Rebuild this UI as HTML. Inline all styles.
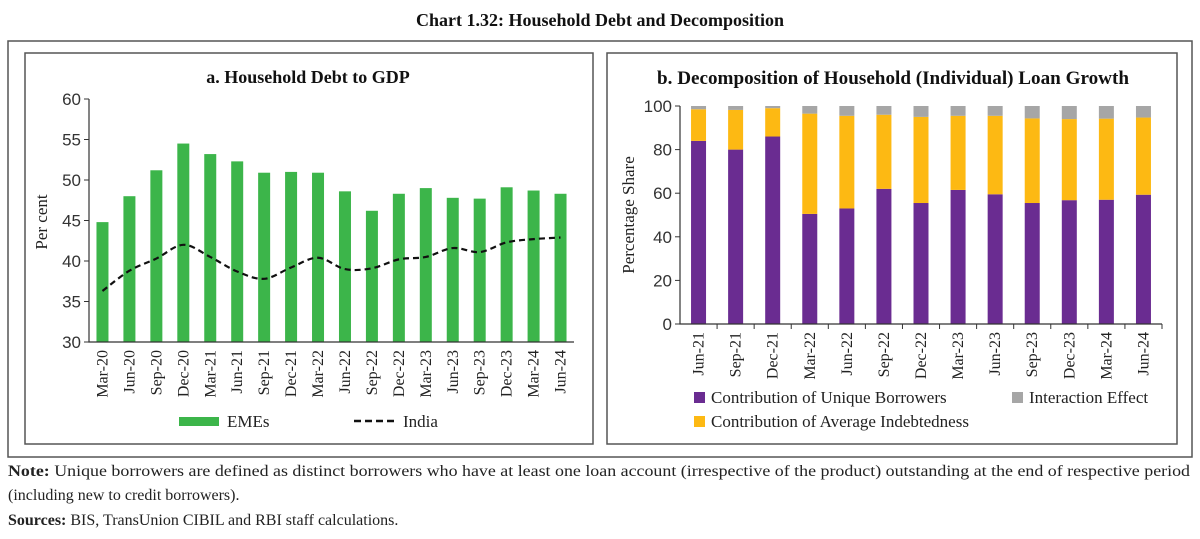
<!DOCTYPE html>
<html><head><meta charset="utf-8">
<style>
body{margin:0;background:#fff;font-family:"Liberation Serif",serif;}
#wrap{position:relative;width:1200px;height:539px;overflow:hidden;}
</style></head>
<body>
<div id="wrap">
<svg id="svg" width="1200" height="539" style="position:absolute;left:0;top:0" font-family="Liberation Serif,serif">
 <text x="600" y="26" text-anchor="middle" font-size="18" font-weight="bold" fill="#111">Chart 1.32: Household Debt and Decomposition</text>
 <rect x="8" y="41" width="1184" height="416" fill="none" stroke="#555" stroke-width="1.5"/>
 <rect x="25" y="53" width="568" height="391" fill="none" stroke="#555" stroke-width="1.5"/>
 <rect x="607" y="53" width="570" height="391" fill="none" stroke="#555" stroke-width="1.5"/>
 <text x="308" y="83" text-anchor="middle" font-size="18" font-weight="bold" fill="#111">a. Household Debt to GDP</text>
 <text x="893" y="84" text-anchor="middle" font-size="19" font-weight="bold" fill="#111" textLength="472" lengthAdjust="spacingAndGlyphs">b. Decomposition of Household (Individual) Loan Growth</text>
 <g id="ga"></g>
 <g id="gb"></g>
 <text x="8" y="476" font-size="16" fill="#222" textLength="1182" lengthAdjust="spacingAndGlyphs"><tspan font-weight="bold">Note:</tspan> Unique borrowers are defined as distinct borrowers who have at least one loan account (irrespective of the product) outstanding at the end of respective period</text>
 <text x="8" y="500" font-size="16" fill="#222">(including new to credit borrowers).</text>
 <text x="8" y="525" font-size="16" fill="#222"><tspan font-weight="bold">Sources:</tspan> BIS, TransUnion CIBIL and RBI staff calculations.</text>
</svg>
</div>
<script>
const catsA=["Mar-20","Jun-20","Sep-20","Dec-20","Mar-21","Jun-21","Sep-21","Dec-21","Mar-22","Jun-22","Sep-22","Dec-22","Mar-23","Jun-23","Sep-23","Dec-23","Mar-24","Jun-24"];
const emes=[44.8,48,51.2,54.5,53.2,52.3,50.9,51,50.9,48.6,46.2,48.3,49,47.8,47.7,49.1,48.7,48.3];
const india=[36.3,38.8,40.3,42,40.5,38.7,37.8,39.2,40.4,39,39.1,40.2,40.5,41.6,41.1,42.3,42.7,42.9];
const ticksA=[30,35,40,45,50,55,60];
const catsB=["Jun-21","Sep-21","Dec-21","Mar-22","Jun-22","Sep-22","Dec-22","Mar-23","Jun-23","Sep-23","Dec-23","Mar-24","Jun-24"];
const uniqueB=[84,80,86,50.5,53,62,55.5,61.5,59.5,55.5,56.8,57,59.3];
const avgB=[14.5,18.2,13,46,42.5,34,39.5,34,36,38.8,37.2,37.2,35.4];
const interB=[1.5,1.8,1,3.5,4.5,4,5,4.5,4.5,5.7,6,5.8,5.3];
const ticksB=[0,20,40,60,80,100];

const NS="http://www.w3.org/2000/svg";
function mk(p,t,a){const e=document.createElementNS(NS,t);for(const k in a)e.setAttribute(k,a[k]);p.appendChild(e);return e;}

// Panel A
const ga=document.getElementById('ga');
const ax0=89,ax1=574,ay0=342,ay1=99,amin=30,amax=60;
const yA=v=>ay0-(v-amin)/(amax-amin)*(ay0-ay1);
const stepA=(ax1-ax0)/catsA.length;
const xA=i=>ax0+stepA*(i+0.5);
ticksA.forEach(t=>{
 const l=mk(ga,'line',{x1:ax0-5,x2:ax0,y1:yA(t),y2:yA(t),stroke:'#333'});
 
 
 const tx=mk(ga,'text',{x:ax0-8,y:yA(t)+6,'text-anchor':'end','font-size':17,fill:'#333','font-family':'Liberation Sans Narrow,Liberation Sans,sans-serif'});
 tx.textContent=t;
 
 
});
emes.forEach((v,i)=>{
 const r=mk(ga,'rect',{x:xA(i)-6,y:yA(v),width:12,height:ay0-yA(v),fill:'#3cb54a'});
 
 
 const tx=mk(ga,'text',{transform:`translate(${xA(i)+5},${ay0+8}) rotate(-90)`,'text-anchor':'end','font-size':16,fill:'#222'});
 tx.textContent=catsA[i];
 
 
});
let axA=mk(ga,'path',{d:`M${ax0},${ay1} V${ay0} H${ax1}`,fill:'none',stroke:'#333','stroke-width':1.2});


let pts=india.map((v,i)=>[xA(i),yA(v)]);
let d=`M${pts[0][0]},${pts[0][1]}`;
for(let i=0;i<pts.length-1;i++){
 const p0=pts[Math.max(0,i-1)],p1=pts[i],p2=pts[i+1],p3=pts[Math.min(pts.length-1,i+2)];
 const c1=[p1[0]+(p2[0]-p0[0])/6,p1[1]+(p2[1]-p0[1])/6],c2=[p2[0]-(p3[0]-p1[0])/6,p2[1]-(p3[1]-p1[1])/6];
 d+=` C${c1[0]},${c1[1]} ${c2[0]},${c2[1]} ${p2[0]},${p2[1]}`;
}
const ln=mk(ga,'path',{d:d,fill:'none',stroke:'#111','stroke-width':2.2,'stroke-dasharray':'6,4'});


const yl=mk(ga,'text',{transform:`translate(47,222) rotate(-90)`,'text-anchor':'middle','font-size':17,fill:'#222'});
yl.textContent='Per cent';


const lg1=mk(ga,'rect',{x:179,y:417,width:40,height:9,fill:'#3cb54a'});


const lt1=mk(ga,'text',{x:227,y:427,'font-size':17,fill:'#222'});lt1.textContent='EMEs';


const lg2=mk(ga,'line',{x1:354,x2:396,y1:421,y2:421,stroke:'#111','stroke-width':2.5,'stroke-dasharray':'7,4'});


const lt2=mk(ga,'text',{x:403,y:427,'font-size':17,fill:'#222'});lt2.textContent='India';



// Panel B
const gb=document.getElementById('gb');
const bx0=680,bx1=1162,by0=324,by1=106;
const yB=v=>by0-v/100*(by0-by1);
const stepB=(bx1-bx0)/catsB.length;
const xB=i=>bx0+stepB*(i+0.5);
ticksB.forEach(t=>{
 const l=mk(gb,'line',{x1:bx0-5,x2:bx0,y1:yB(t),y2:yB(t),stroke:'#333'});
 
 
 const tx=mk(gb,'text',{x:bx0-8,y:yB(t)+6,'text-anchor':'end','font-size':17,fill:'#333','font-family':'Liberation Sans Narrow,Liberation Sans,sans-serif'});
 tx.textContent=t;
 
 
});
catsB.forEach((c,i)=>{
 const x=xB(i)-7.5;
 const r1=mk(gb,'rect',{x:x,y:yB(uniqueB[i]),width:15,height:by0-yB(uniqueB[i]),fill:'#6a2c91'});
 
 
 const t2=uniqueB[i]+avgB[i];
 const r2=mk(gb,'rect',{x:x,y:yB(t2),width:15,height:yB(uniqueB[i])-yB(t2),fill:'#fdb913'});
 
 
 const t3=t2+interB[i];
 const r3=mk(gb,'rect',{x:x,y:yB(t3),width:15,height:yB(t2)-yB(t3),fill:'#a6a6a6'});
 
 
 const tk=mk(gb,'line',{x1:bx0+stepB*(i+1),x2:bx0+stepB*(i+1),y1:by0,y2:by0+5,stroke:'#333'});
 
 
 const tx=mk(gb,'text',{transform:`translate(${xB(i)+5},${by0+8}) rotate(-90)`,'text-anchor':'end','font-size':16,fill:'#222'});
 tx.textContent=c;
 
 
});
let axB=mk(gb,'path',{d:`M${bx0},${by1} V${by0} H${bx1}`,fill:'none',stroke:'#333','stroke-width':1.2});


const ylb=mk(gb,'text',{transform:`translate(634,215) rotate(-90)`,'text-anchor':'middle','font-size':17,fill:'#222'});
ylb.textContent='Percentage Share';


const L=[[694,392,'#6a2c91','Contribution of Unique Borrowers','unique-borrowers'],[1012,392,'#a6a6a6','Interaction Effect','interaction-effect'],[694,416,'#fdb913','Contribution of Average Indebtedness','average-indebtedness']];
L.forEach(l=>{
 const s=mk(gb,'rect',{x:l[0],y:l[1],width:11,height:11,fill:l[2]});
 
 
 const t=mk(gb,'text',{x:l[0]+17,y:l[1]+11,'font-size':17,fill:'#222'});
 t.textContent=l[3];
 
 
});
</script>
</body></html>
